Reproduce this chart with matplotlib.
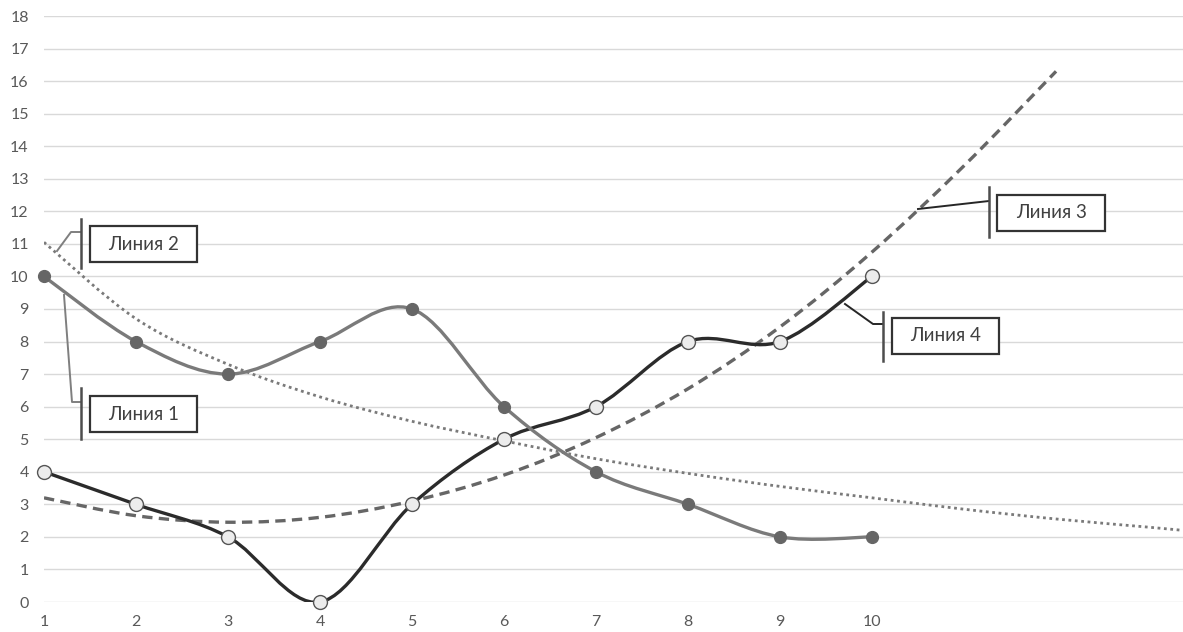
import numpy as np
import matplotlib
matplotlib.use("Agg")
import matplotlib.pyplot as plt
from matplotlib.path import Path
from matplotlib.patches import PathPatch, Rectangle
from matplotlib.lines import Line2D

plt.rcParams['font.family'] = ['Lato', 'DejaVu Sans']

# data
x = [1, 2, 3, 4, 5, 6, 7, 8, 9, 10]
line1 = [10, 8, 7, 8, 9, 6, 4, 3, 2, 2]          # gray, filled markers
line4 = [4, 3, 2, 0, 3, 5, 6, 8, 8, 10]          # black, open markers

# trend lines (values read at whole x, last point at the right edge)
trend2_x = [1, 2, 3, 4, 5, 6, 7, 8, 9, 10, 11, 12, 13, 13.38]
trend2_y = [11.05, 8.7, 7.3, 6.3, 5.55, 4.95, 4.4, 3.95, 3.55, 3.2, 2.85, 2.55, 2.3, 2.2]
trend3_x = [1, 2, 3, 4, 5, 6, 7, 8, 9, 10, 11, 12]
trend3_y = [3.2, 2.65, 2.45, 2.6, 3.1, 3.9, 5.05, 6.55, 8.45, 10.75, 13.4, 16.3]

y_ticks = list(range(0, 19))
x_ticks = x

W, H = 1183, 632


def smooth(xs, ys):
    # bezier path like a smoothed office line
    p = np.column_stack([xs, ys]).astype(float)
    verts = [p[0]]
    codes = [Path.MOVETO]
    n = len(p)
    for i in range(n - 1):
        p0 = p[i - 1] if i > 0 else p[i]
        p1 = p[i]
        p2 = p[i + 1]
        p3 = p[i + 2] if i + 2 < n else p[i + 1]
        verts += [p1 + (p2 - p0) / 6, p2 - (p3 - p1) / 6, p2]
        codes += [Path.CURVE4] * 3
    return Path(verts, codes)


def px(a, b):
    return a / W, 1 - b / H


fig = plt.figure(figsize=(W / 100, H / 100), dpi=100)
ax = fig.add_axes([44 / W, 1 - 602 / H, 1 - 44 / W, (602 - 16) / H])
ax.set_xlim(1, 13.38)
ax.set_ylim(0, 18)
for s in ax.spines.values():
    s.set_visible(False)
ax.set_yticks(y_ticks)
ax.set_xticks(x_ticks)
ax.tick_params(length=0, labelsize=11.5, labelcolor='#595959')
ax.tick_params(axis='y', pad=11)
ax.tick_params(axis='x', pad=9)
ax.grid(axis='y', color='#d9d9d9', lw=1)
ax.set_axisbelow(True)

# trend lines
ax.add_patch(PathPatch(smooth(trend2_x, trend2_y), fill=False, ec='#7a7a7a',
                       lw=2.0, ls=(0, (1, 1.3)), capstyle='butt', zorder=2))
ax.add_patch(PathPatch(smooth(trend3_x, trend3_y), fill=False, ec='#666666',
                       lw=2.4, ls=(0, (3.1, 1.9)), capstyle='butt', zorder=2))

# series
ax.add_patch(PathPatch(smooth(x, line4), fill=False, ec='#2b2b2b', lw=2.4, zorder=3))
ax.plot(x, line4, 'o', ms=10, mfc='#ececec', mec='#555555', mew=1, clip_on=False, zorder=4)
ax.add_patch(PathPatch(smooth(x, line1), fill=False, ec='#7a7a7a', lw=2.4, zorder=5))
ax.plot(x, line1, 'o', ms=8.5, mfc='#666666', mec='#666666', clip_on=False, zorder=6)

# callouts: (leader points, bar x, bar y0, y1, box x0, y0, x1, y1, text, leader colour)
callouts = [
    ([(64, 295), (72, 402), (81, 402)], 81, 388, 439, (90, 396, 197, 432), "Линия 1", '#7f7f7f'),
    ([(57, 251), (71, 232), (81, 232)], 81, 219, 268, (90, 226, 197, 262), "Линия 2", '#7f7f7f'),
    ([(918, 209), (989, 201)], 989, 187, 237, (997, 195, 1105, 231), "Линия 3", '#262626'),
    ([(845, 304), (873, 324), (883, 324)], 883, 312, 361, (892, 318, 999, 354), "Линия 4", '#262626'),
]
for pts, bx, by0, by1, box, label, lc in callouts:
    xs = [px(a, b)[0] for a, b in pts]
    ys = [px(a, b)[1] for a, b in pts]
    fig.add_artist(Line2D(xs, ys, transform=fig.transFigure, color=lc, lw=1.4, zorder=7))
    fig.add_artist(Line2D([bx / W, bx / W], [px(0, by0)[1], px(0, by1)[1]],
                          transform=fig.transFigure, color='#4d4d4d', lw=1.8, zorder=7))
    x0, y0, x1, y1 = box
    fig.add_artist(Rectangle(px(x0, y1), (x1 - x0) / W, (y1 - y0) / H,
                             transform=fig.transFigure, fc='white', ec='#333333', lw=1.6, zorder=7))
    fig.text((x0 + x1) / 2 / W, px(0, (y0 + y1) / 2)[1], label, ha='center', va='center',
             fontsize=13.5, color='#404040', zorder=8)

fig.savefig("out.png", dpi=100)
